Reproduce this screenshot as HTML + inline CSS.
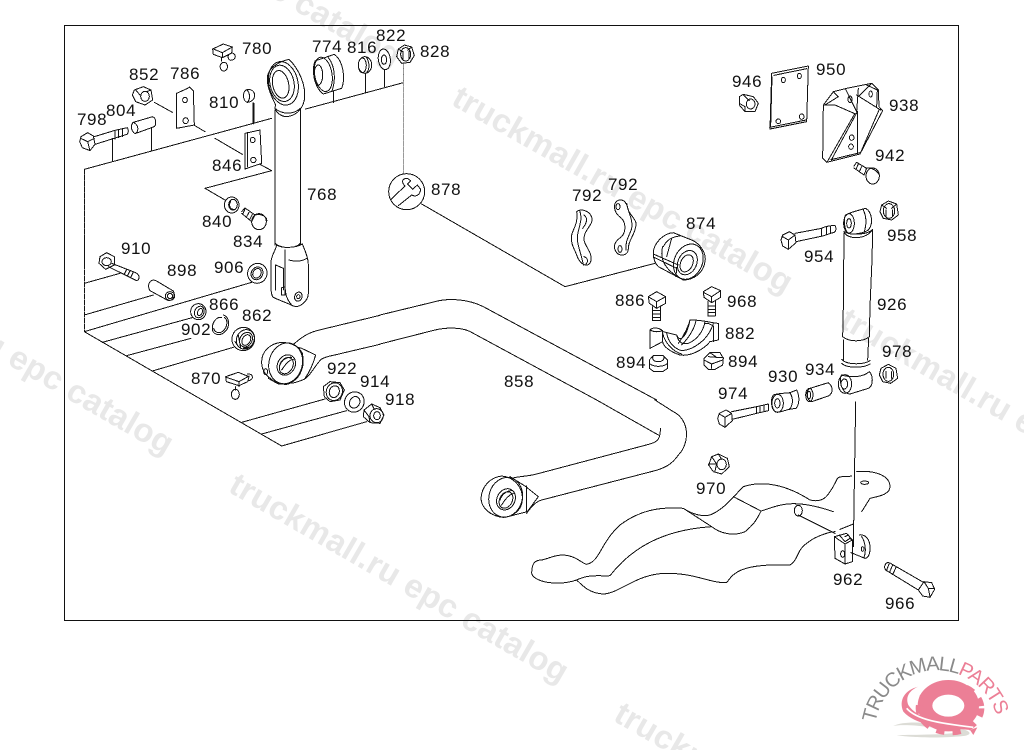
<!DOCTYPE html>
<html><head><meta charset="utf-8"><title>Diagram</title>
<style>
html,body{margin:0;padding:0;background:#fff;width:1024px;height:750px;overflow:hidden}
svg{display:block;overflow:hidden}
.l *{vector-effect:non-scaling-stroke}
.l{fill:none;stroke:#111;stroke-width:1;stroke-linejoin:round;stroke-linecap:round;shape-rendering:crispEdges}
.w{fill:#fff}
.d{stroke-dasharray:5 1}
.n text{font-family:"Liberation Sans",sans-serif;font-size:17px;letter-spacing:.6px;fill:#111}
.wm{font-family:"Liberation Sans",sans-serif;font-size:33px;fill:#e8e8e8;font-weight:bold}
</style></head><body>
<svg width="1024" height="750" viewBox="0 0 1024 750" xmlns="http://www.w3.org/2000/svg">
<rect width="1024" height="750" fill="#fff"/>
<!-- watermarks -->
<g class="wm">
<text transform="translate(450,104) rotate(29.6)" textLength="385">truckmall.ru epc catalog</text>
<text transform="translate(227,491) rotate(30)" textLength="385">truckmall.ru epc catalog</text>
<text transform="translate(-168,263) rotate(30)" textLength="385">truckmall.ru epc catalog</text>
<text transform="translate(838,326) rotate(30)" textLength="385">truckmall.ru epc catalog</text>
<text transform="translate(612,720) rotate(30)" textLength="385">truckmall.ru epc catalog</text>
<text transform="translate(60,-125) rotate(30)" textLength="385">truckmall.ru epc catalog</text>
</g>
<rect x="64.5" y="25.5" width="894" height="595" fill="none" stroke="#111" stroke-width="1"/>

<!-- Z1 top left -->
<g class="l" transform="translate(65,25) scale(.33333)">
<path d="M58 433L620 280M722 252L1015 173M142 340V408M260 310V378M805 200V233M902 140V203M958 130V185M1015 115V173"/>
<path d="M565 235V295" stroke-width="2"/>
<path d="M58 433V720" class="d"/>
<path d="M1016 115V450" stroke="#999" class="d"/>
<path d="M268 232L322 262M378 295L420 320M450 340L532 388M570 410L620 437L420 490L480 525"/>
<!-- 780 -->
<path d="M443 72L475 57L502 66L500 84L472 98L445 88ZM445 72L472 83L472 98M472 83L502 66M500 84C515 85 515 105 497 106C488 104 488 92 492 88M470 98V108M477 112A11 13 0 1 1 476 112"/>
<!-- 852 -->
<path d="M208 195L235 185L258 195L263 225L240 240L212 230L202 210Z"/><ellipse cx="240" cy="214" rx="13" ry="15"/><path d="M212 195L225 210M258 195L245 200"/>
<!-- 786 -->
<path class="w" d="M335 205L368 190L374 186L385 197L388 300L335 310Z"/><ellipse cx="360" cy="225" rx="7" ry="8"/><ellipse cx="362" cy="287" rx="8" ry="9"/>
<!-- 846 -->
<path class="w" d="M540 325L585 315L590 415L540 432Z"/><path d="M548 322V425"/><ellipse cx="563" cy="345" rx="7" ry="8"/><ellipse cx="565" cy="405" rx="8" ry="8"/>
<!-- 810 -->
<path class="w" d="M545 194C575 188 578 230 547 232C532 228 532 198 545 194Z"/><path d="M545 194C556 204 556 224 547 232"/>
<!-- 798 -->
<path class="w" d="M48 335L68 323L85 333L90 358L75 377L52 368L44 350Z"/><path d="M47 340L68 350L75 377M68 350L88 340M88 335L150 316L187 308C192 315 190 325 186 328L90 358M150 316V342M160 314V338M172 311V335"/>
<!-- 804 -->
<path class="w" d="M205 292L263 275C275 280 275 303 265 306L210 326C195 315 198 298 205 292Z"/><path d="M205 292C222 300 222 320 210 326"/>
<!-- eye 768 -->
<path class="w" d="M630 255L630 660M706 252L706 660"/>
<path d="M630 655C650 672 690 672 706 655"/>
<path class="w" d="M607 155C612 128 640 110 672 103C700 130 725 180 718 225C712 255 690 275 660 275C640 270 625 255 632 240C620 215 605 185 607 155Z"/>
<ellipse cx="655" cy="175" rx="44" ry="66" transform="rotate(-12 655 175)"/>
<ellipse cx="651" cy="175" rx="36" ry="55" transform="rotate(-12 651 175)"/>
<ellipse cx="647" cy="178" rx="24" ry="42" transform="rotate(-12 647 178)"/>
<path d="M630 250C650 268 685 270 706 250"/>
<!-- 774 -->
<path class="w" d="M750 108L808 88C835 108 842 160 830 190L775 207C750 190 738 140 750 108Z"/><ellipse cx="775" cy="148" rx="26" ry="52" transform="rotate(-10 775 148)"/><ellipse cx="760" cy="150" rx="13" ry="30"/><path d="M790 98C812 125 812 170 800 200"/>
<!-- 816 -->
<ellipse cx="900" cy="120" rx="20" ry="25" class="w"/><ellipse cx="892" cy="121" rx="12" ry="22"/><path d="M905 98C915 115 913 135 905 143"/>
<!-- 822 -->
<ellipse cx="958" cy="103" rx="18" ry="31" class="w" transform="rotate(-8 958 103)"/><ellipse cx="957" cy="104" rx="8" ry="14"/>
<!-- 828 -->
<path class="w" d="M1000 72L1018 60L1040 66L1048 92L1035 112L1010 115L995 95Z"/><ellipse cx="1022" cy="88" rx="15" ry="20"/><path d="M1000 72L1012 80M1040 66L1028 75M1014 80V105M1032 78V102"/>
<!-- 834 840 -->
<ellipse cx="500" cy="540" rx="22" ry="24" class="w"/><ellipse cx="504" cy="539" rx="13" ry="16"/><path d="M497 530C490 540 495 552 505 553"/>
<ellipse cx="582" cy="590" rx="22" ry="24" class="w"/><path d="M530 560L540 549L570 570L560 590L530 565M540 552L533 568M552 562L545 575M562 568L555 582M570 570C590 565 608 575 605 590"/>
</g>

<!-- Z2 lower left -->
<g class="l" transform="translate(65,240) scale(.33333)">
<path class="d" d="M58 0V275"/>
<path d="M58 275L650 618L905 545M590 582L845 512M530 547L780 477M262 393L505 322M185 347L378 295M112 307L385 232M58 275L560 127M58 225L265 165M58 130L165 100"/>
<!-- fork -->
<path class="w" d="M635 15C650 25 690 25 712 12C718 28 730 50 730 75V160C730 182 705 205 685 198C670 190 640 180 625 172C618 165 618 150 618 130V65C620 45 630 35 635 15Z"/>
<path d="M660 30V130C660 155 662 175 680 195M672 60C690 65 710 65 725 55M655 85L632 75V150M655 85V150M650 143L660 140L660 165L650 165Z"/>
<ellipse cx="700" cy="170" rx="11" ry="14" transform="rotate(20 700 170)"/><ellipse cx="700" cy="170" rx="5" ry="6"/>
<!-- 910 -->
<path class="w" d="M105 50L125 38L148 50L148 75L122 88L102 70Z"/><ellipse cx="125" cy="65" rx="14" ry="12"/><path d="M140 70L212 98C225 105 225 118 215 122L130 80M185 88L178 102M195 92L188 106M205 96L198 110"/>
<!-- 898 -->
<path class="w" d="M252 130C258 118 268 118 278 125L325 153C332 165 325 182 310 182L255 152C250 145 250 135 252 130Z"/><ellipse cx="315" cy="168" rx="14" ry="13"/><ellipse cx="315" cy="168" rx="8" ry="8"/>
<!-- 906 -->
<ellipse cx="577" cy="100" rx="29" ry="30" class="w" transform="rotate(30 577 100)"/><ellipse cx="576" cy="100" rx="17" ry="20" transform="rotate(30 576 100)"/><ellipse cx="576" cy="100" rx="12" ry="15" transform="rotate(30 576 100)"/>
<!-- 866 -->
<ellipse cx="400" cy="215" rx="23" ry="24" class="w"/><ellipse cx="403" cy="216" rx="14" ry="18" transform="rotate(25 403 216)"/><ellipse cx="405" cy="216" rx="7" ry="11" transform="rotate(25 405 216)"/>
<!-- 902 -->
<path d="M475 225C492 230 498 258 480 275C465 290 440 285 442 262C443 245 455 230 470 232M478 232C490 240 488 262 472 275C460 282 448 275 446 265"/>
<!-- 862 -->
<ellipse cx="535" cy="297" rx="34" ry="35" class="w" transform="rotate(20 535 297)"/><ellipse cx="541" cy="298" rx="26" ry="30" transform="rotate(30 541 298)"/><ellipse cx="543" cy="299" rx="18" ry="23" transform="rotate(30 543 299)"/><ellipse cx="544" cy="300" rx="12" ry="17" transform="rotate(30 544 300)"/><path d="M510 305L520 320M520 285L527 325M535 325L560 320"/>
<!-- 870 -->
<path class="w" d="M482 410L520 397L552 410L548 425L522 437L484 425ZM484 412L522 425V440M522 425L552 408"/><path d="M548 402C565 400 568 420 550 422M512 440V450"/><ellipse cx="511" cy="463" rx="12" ry="15"/>
<!-- bar link upper and lower lines -->
<path d="M680 318C700 300 720 282 755 272L945 226M722 415C745 395 750 375 770 357C785 348 800 348 830 340L945 313"/>
<!-- eye -->
<path class="w" d="M670 315L710 325L752 345C745 370 735 395 718 418L690 428L640 432L610 415Z"/>
<path class="w" d="M590 365C590 335 615 310 650 307C675 308 700 315 712 340C720 375 710 415 670 432C650 437 625 425 610 410C597 400 590 385 590 365Z"/>
<ellipse cx="662" cy="370" rx="50" ry="62" transform="rotate(15 662 370)"/>
<ellipse cx="664" cy="375" rx="26" ry="32" transform="rotate(30 664 375)"/>
<ellipse cx="664" cy="377" rx="19" ry="26" transform="rotate(30 664 377)"/>
<path d="M645 375C650 360 665 350 680 352M650 390C660 375 670 360 685 358"/>
<ellipse cx="602" cy="395" rx="6" ry="9"/>
<!-- 922 -->
<path class="w" d="M775 440L795 425L825 428L838 450L825 480L795 485L778 470Z"/><ellipse cx="808" cy="455" rx="24" ry="27" transform="rotate(20 808 455)"/><ellipse cx="808" cy="455" rx="15" ry="18" transform="rotate(20 808 455)"/>
<!-- 914 -->
<ellipse cx="868" cy="486" rx="29" ry="31" class="w" transform="rotate(30 868 486)"/><ellipse cx="869" cy="487" rx="15" ry="18" transform="rotate(30 869 487)"/>
<!-- 918 -->
<path class="w" d="M897 510L920 492L945 503L957 525L945 550L915 548L895 530Z"/><ellipse cx="935" cy="527" rx="20" ry="21"/><ellipse cx="936" cy="527" rx="10" ry="12"/><path d="M897 510L912 530L915 548M920 492L928 508"/>
</g>

<!-- Z3 middle -->
<g class="l" transform="translate(380,160) scale(.33333)">
<path d="M125 132L555 380L825 310"/>
<path d="M0 465L165 425C200 415 260 415 310 440L830 720M0 552L165 510C200 502 250 500 280 520L650 720"/>
<!-- 878 -->
<circle cx="80" cy="95" r="54" class="w"/>
<path d="M33 118L75 78C62 65 68 55 82 55L92 62L82 72L98 88L112 75L122 88C120 105 108 112 95 105L55 137"/>
<!-- 792 left -->
<path class="w" d="M590 155C600 145 630 150 636 175C640 195 610 210 612 240C615 260 640 280 632 305C625 325 600 315 590 285C585 270 570 250 575 225C580 205 595 190 590 155Z"/>
<path d="M600 155C610 185 590 210 592 240C595 265 605 285 610 315M612 165C625 175 620 190 608 205M612 290C625 295 625 305 618 312"/>
<!-- 792 right -->
<path class="w" d="M705 130C715 115 735 115 742 140C745 165 770 175 768 195C765 225 745 240 745 265C745 290 715 290 708 275C695 255 710 240 725 230C738 215 738 190 725 175C710 165 700 150 705 130Z"/>
<ellipse cx="714" cy="140" rx="6" ry="9"/><ellipse cx="720" cy="267" rx="6" ry="10"/><path d="M740 130C745 160 760 180 755 205C750 225 735 240 738 270"/>
<!-- 874 -->
<path class="w" d="M820 280C820 250 850 220 880 218L935 240C960 250 980 280 975 305C970 340 940 360 910 360L835 320C825 310 820 295 820 280Z"/>
<ellipse cx="925" cy="305" rx="42" ry="55" transform="rotate(25 925 305)"/>
<ellipse cx="922" cy="308" rx="28" ry="38" transform="rotate(25 922 308)"/>
<ellipse cx="920" cy="310" rx="18" ry="27" transform="rotate(25 920 310)"/>
<path d="M850 260C860 240 875 230 900 228M820 282L895 315M822 292L890 325M848 260C840 290 850 320 885 345M875 235L860 290M890 322L888 350"/>
<!-- 886 -->
<path class="w" d="M805 410L830 395L857 410V430L830 445L808 430Z"/><path d="M808 412L830 425L857 410M830 425V445M818 440V482H842V438M818 452H842M818 462H842M818 472H842"/>
<!-- 968 -->
<path class="w" d="M970 395L995 380L1022 392V412L995 428L972 412Z"/><path d="M970 397L995 410L1022 392M995 410V428M984 425V468H1006V423M984 438H1006M984 448H1006M984 458H1006"/>
<!-- 882 -->
<path class="w" d="M810 510C820 500 840 503 850 515L890 525C900 550 920 530 930 480C960 478 1000 490 1015 490V540L990 545C970 570 930 590 900 585C870 575 850 560 848 545L810 565Z"/>
<path d="M810 510C825 518 840 515 848 512V545M848 520C855 550 880 575 905 582M860 520C865 545 880 565 905 572C940 570 985 540 1000 490M890 525C895 545 905 555 925 550C950 540 970 515 975 485M930 480C925 500 910 530 895 550M948 482C945 500 930 530 905 555M975 490L985 490L1000 498V545"/>
<!-- 894 -->
<path class="w" d="M808 600L820 587L850 587L863 600V625L848 635H822L808 625Z"/><path d="M808 610C820 622 850 622 863 610M820 587C815 597 820 605 835 605C850 605 855 595 850 587"/>
<path class="w" d="M972 595L990 578H1020L1030 595L1028 615L1005 628H985L972 615Z"/><path d="M972 600L995 612L1028 600M995 612V625M990 578L1010 592L1030 592M985 590L1010 592"/>
</g>

<!-- Z4 upper right -->
<g class="l" transform="translate(700,40) scale(.33333)">
<path class="w" d="M118 170L130 163L160 170L175 190L165 215L135 215L118 195Z"/><ellipse cx="152" cy="192" rx="13" ry="15"/><path d="M130 165L148 182M118 190L135 200L135 215"/>
<path class="w" d="M215 100L325 78L320 245L210 267Z"/><path d="M222 106L320 86M216 110L212 258M209 262L318 240"/>
<ellipse cx="250" cy="120" rx="6" ry="8"/><ellipse cx="298" cy="108" rx="6" ry="8"/><ellipse cx="235" cy="244" rx="7" ry="7"/><ellipse cx="305" cy="230" rx="7" ry="8"/>
<path class="w" d="M370 195L400 155L440 145L515 130L535 150L537 200L548 212L480 342L380 367L368 355Z"/>
<path d="M372 195L405 195L462 220M400 155L415 170L375 195M437 148L470 215M475 145L470 215M515 130L475 170M470 165L542 210M465 220L382 365M472 215L394 360M473 215V340M480 342L537 210M500 135L532 150L530 200M393 359L480 338"/>
<ellipse cx="450" cy="178" rx="6" ry="10"/><ellipse cx="512" cy="162" rx="5" ry="9"/><ellipse cx="455" cy="293" rx="7" ry="8"/><ellipse cx="453" cy="320" rx="7" ry="8"/>
<path d="M462 378L470 367L500 385L492 405L462 384M475 372L468 388M485 380L478 395"/><ellipse cx="518" cy="408" rx="20" ry="24" class="w"/><path d="M498 385C510 380 530 390 538 405"/>
</g>

<!-- Z5 shock -->
<g class="l" transform="translate(700,200) scale(.33333)">
<path d="M432 100L430 320L428 410M518 90L516 180L510 320L508 410M428 410C450 428 490 425 508 410M431 420V480M506 415L503 480M425 478C440 495 490 495 510 482M425 490C440 505 490 505 510 492"/>
<path class="w" d="M432 95C440 120 500 120 518 88C505 102 475 105 445 100Z"/>
<path class="w" d="M437 45C455 35 480 30 497 25C515 35 522 70 505 90C490 100 460 105 445 100C432 90 430 55 437 45Z"/>
<ellipse cx="447" cy="70" rx="16" ry="29"/><ellipse cx="447" cy="70" rx="7" ry="14"/><path d="M490 30C500 50 500 75 492 97"/>
<path class="w" d="M425 525C460 535 490 530 508 515C522 530 518 560 505 565L450 582C425 580 415 540 425 525Z"/>
<ellipse cx="435" cy="552" rx="20" ry="28"/><ellipse cx="433" cy="552" rx="10" ry="15"/>
<path class="w" d="M545 15L565 3L590 12L595 45L575 60L550 55L540 35Z"/><ellipse cx="567" cy="33" rx="17" ry="22"/><path d="M545 15L560 25M590 12L575 25M558 30V50M578 30V50"/>
<path class="w" d="M543 505L565 493L588 505L593 535L572 550L548 545L538 525Z"/><ellipse cx="565" cy="523" rx="16" ry="21"/><path d="M558 515V535M575 515V535"/>
<!-- 954 -->
<path class="w" d="M248 105L268 95L285 105L288 128L265 148L248 138L243 120Z"/><path d="M248 110L265 120L265 148M265 120L285 105M285 100L365 85C372 80 392 77 405 76C410 85 408 95 402 97L368 108L288 125M365 85V108M380 80V103M392 78V100"/>
<!-- 974 -->
<path class="w" d="M58 640L78 630L95 640L97 662L75 682L58 672L53 655Z"/><path d="M58 642L75 652L75 682M75 652L95 640M95 635L170 620L205 612V632L170 640L97 658M170 620V640M180 618V638M192 615V635"/>
<!-- 930 -->
<path class="w" d="M220 585C230 580 255 580 270 578L290 570C300 590 298 615 288 625L268 628C250 632 235 640 225 635C212 625 212 595 220 585Z"/><ellipse cx="233" cy="610" rx="17" ry="27"/><ellipse cx="232" cy="610" rx="8" ry="14"/><path d="M270 578C280 595 280 615 268 628"/>
<!-- 934 -->
<path class="w" d="M330 565L385 548C400 560 400 580 385 588L335 605C320 600 315 575 330 565Z"/><ellipse cx="328" cy="585" rx="11" ry="20"/><ellipse cx="327" cy="585" rx="5" ry="11"/>
</g>

<!-- Z6 lower -->
<g class="l" transform="translate(470,400) scale(.33333)">
<path d="M380 0L565 105M555 0L610 35C660 60 660 130 625 165C605 195 580 205 555 212L215 300C195 305 180 325 170 340M572 85C570 100 570 115 560 122C555 128 550 128 540 132L200 222C170 230 150 228 125 235"/>
<path class="w" d="M120 230L165 258L205 290L172 335L105 352L60 340Z"/>
<path class="w" d="M33 295C35 260 60 232 95 228C135 232 160 265 157 300C155 330 130 350 100 352C70 350 35 330 33 295Z"/>
<ellipse cx="107" cy="292" rx="50" ry="60" transform="rotate(15 107 292)"/>
<ellipse cx="108" cy="298" rx="27" ry="33" transform="rotate(28 108 298)"/>
<ellipse cx="108" cy="300" rx="19" ry="26" transform="rotate(28 108 300)"/>
<path d="M90 300C95 285 108 272 125 272M95 315C105 298 115 285 130 280M170 258V335"/>
<!-- 970 -->
<path class="w" d="M725 170L745 162L772 175L778 200L755 222L730 215L716 195Z"/><ellipse cx="755" cy="193" rx="14" ry="16"/><path d="M725 170L740 192L735 213M716 192L740 192M745 162L755 178"/>
<!-- frame -->
<path d="M185 520C185 490 195 480 215 480C240 475 250 465 280 465C320 468 335 490 350 493C390 485 390 430 450 375C510 330 570 320 640 325C670 345 700 350 720 345C760 330 790 290 820 260C880 240 950 255 1020 300C1060 310 1075 290 1100 240C1105 225 1125 232 1145 228M1160 215C1210 210 1260 225 1260 260C1260 285 1220 290 1200 295L1175 335"/>
<path d="M185 520C190 545 260 560 320 540C340 560 360 580 400 582C450 580 500 520 590 520C680 520 720 550 770 548C790 520 810 490 960 495C985 480 980 450 1010 430C1040 405 1085 395 1095 395M1110 388L1150 372"/>
<path d="M320 540C360 520 400 530 420 527C480 450 570 390 725 380C750 400 790 410 825 395C850 375 860 360 873 333C920 320 960 290 1090 335"/>
<path d="M640 325L725 380M790 290L873 333M985 345L1095 400"/>
<ellipse cx="985" cy="332" rx="12" ry="16"/><ellipse cx="1184" cy="248" rx="12" ry="5"/>
<!-- 962 -->
<path class="w" d="M1093 410L1130 400L1147 420V485L1125 492L1095 475Z"/><path d="M1093 410L1125 432V492M1125 432L1147 420M1108 405L1125 425L1140 415M1125 410L1135 405L1143 418"/><ellipse cx="1118" cy="462" rx="6" ry="10"/>
<path d="M1143 458L1185 475C1200 475 1205 440 1195 420C1190 408 1175 402 1168 405M1175 410C1185 425 1190 450 1182 472"/><ellipse cx="1178" cy="447" rx="4" ry="7"/>
<path d="M1157 6L1150 440"/>
<!-- 966 -->
<path class="w" d="M1247 492C1250 485 1260 488 1265 492L1362 548L1345 570L1247 510C1243 505 1243 498 1247 492Z"/><path d="M1258 490L1250 510M1268 495L1258 518M1278 502L1268 524"/>
<path class="w" d="M1362 545L1385 548L1394 568L1380 592L1358 588L1345 570Z"/><path d="M1362 545L1375 565L1380 590M1375 565L1394 565"/>
</g>

<!-- labels -->
<g class="n">
<text x="242" y="54">780</text><text x="312" y="52">774</text><text x="347" y="53">816</text><text x="376" y="41">822</text><text x="420" y="57">828</text>
<text x="129" y="80">852</text><text x="170" y="79">786</text><text x="106" y="116">804</text><text x="77" y="125">798</text><text x="209" y="108">810</text><text x="212" y="171">846</text><text x="307" y="200">768</text><text x="202" y="227">840</text><text x="233" y="247">834</text><text x="121" y="254">910</text><text x="167" y="276">898</text><text x="214" y="273">906</text><text x="209" y="310">866</text><text x="242" y="321">862</text><text x="181" y="335">902</text><text x="191" y="384">870</text><text x="327" y="374">922</text><text x="360" y="387">914</text><text x="385" y="405">918</text><text x="504" y="387">858</text><text x="431" y="195">878</text><text x="572" y="201">792</text><text x="608" y="190">792</text><text x="686" y="229">874</text><text x="615" y="306">886</text><text x="727" y="307">968</text><text x="725" y="339">882</text><text x="616" y="368">894</text><text x="728" y="367">894</text><text x="718" y="399">974</text><text x="732" y="87">946</text><text x="816" y="75">950</text><text x="889" y="111">938</text><text x="875" y="161">942</text><text x="887" y="241">958</text><text x="804" y="262">954</text><text x="877" y="310">926</text><text x="882" y="357">978</text><text x="805" y="375">934</text><text x="768" y="382">930</text><text x="696" y="494">970</text><text x="833" y="585">962</text><text x="885" y="609">966</text>
</g>

<!-- logo -->
<g transform="translate(840,640) scale(.33333)">
<path d="M160 258C200 238 300 250 370 268C395 275 395 285 370 288C300 296 200 292 170 285C200 285 300 285 355 278C290 260 190 250 160 258Z" fill="#dcdcd6"/>
<ellipse cx="325" cy="197" rx="70" ry="55" fill="none" stroke="#ec7f96" stroke-width="44"/>
<ellipse cx="330" cy="205" rx="92" ry="70" fill="none" stroke="#ec7f96" stroke-width="22" stroke-dasharray="24 24"/>
<path d="M390 270L400 285L412 262Z" fill="#ec7f96"/>
<ellipse cx="328" cy="196" rx="40" ry="18" fill="#fff"/>
<path d="M235 140C195 150 175 180 190 215C225 255 300 262 392 270L385 260C300 250 230 235 205 195C195 170 210 150 235 140Z" fill="#ec7f96"/>
<path d="M200 205C230 240 300 250 400 262" fill="none" stroke="#fff" stroke-width="5"/>
</g>
<g font-family="'Liberation Sans',sans-serif" font-size="20">
<path id="arc" d="M875.5 722.7A62 62 0 0 1 998 722.7" fill="none"/>
<text><textPath href="#arc" textLength="168"><tspan fill="#8a8a8a">TRUCKMALL</tspan><tspan fill="#ec7f96">PARTS</tspan></textPath></text>
</g>
</svg>
</body></html>
